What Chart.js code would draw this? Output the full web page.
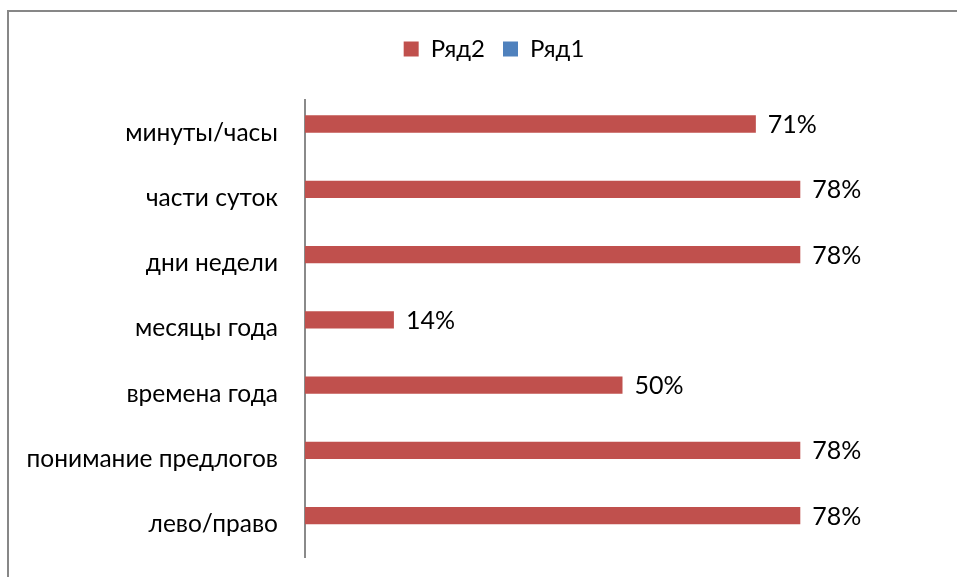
<!DOCTYPE html>
<html>
<head>
<meta charset="utf-8">
<script src="https://cdn.jsdelivr.net/npm/chart.js@4.4.1/dist/chart.umd.min.js"></script>
<style>
  html, body { margin: 0; padding: 0; background: #fff; }
  #wrap { width: 957px; height: 577px; position: relative; }
</style>
</head>
<body>
<div id="wrap"><canvas id="myChart"></canvas></div>
<script>
(function () {
    "use strict";

    // categories and values (share of children, 0..1)
    const categories = ['минуты/часы', 'части суток', 'дни недели', 'месяцы года', 'времена года', 'понимание предлогов', 'лево/право'];
    const row2Values = [0.71, 0.78, 0.78, 0.14, 0.50, 0.78, 0.78];
    const row1Values = [null, null, null, null, null, null, null];
    const seriesNames = ['Ряд2', 'Ряд1'];

    const FONT = "Lato, 'Noto Sans', sans-serif";

    // outer frame of the chart (only left/top edges fall inside the picture)
    const framePlugin = {
        id: 'frame',
        beforeDraw(chart) {
            const c = chart.ctx;
            c.save();
            c.strokeStyle = '#878787';
            c.lineWidth = 2;
            c.strokeRect(8, 11, 1200, 1200);
            c.restore();
        },
        afterLayout(chart) {
            // legend is centred on the whole frame, not the canvas
            chart.legend.left += 14;
            chart.legend.right += 14;
            chart.legend.top += 3;
            chart.legend.bottom += 3;
        }
    };

    // percentage labels right of each bar
    const valueLabels = {
        id: 'valueLabels',
        afterDatasetsDraw(chart) {
            const c = chart.ctx;
            const meta = chart.getDatasetMeta(0);
            c.save();
            c.font = '25px ' + FONT;
            c.fillStyle = '#000';
            c.textAlign = 'left';
            c.textBaseline = 'middle';
            meta.data.forEach(function (bar, i) {
                const v = row2Values[i];
                if (v == null) return;
                c.fillText(Math.round(v * 100) + '%', bar.x + 12, bar.y + 1);
            });
            c.restore();
        }
    };

    const ctx = document.getElementById('myChart').getContext('2d');
    new Chart(ctx, {
        type: 'bar',
        data: {
            labels: categories,
            datasets: [
                {
                    label: seriesNames[0],
                    backgroundColor: '#C0504D',
                    data: row2Values
                },
                {
                    label: seriesNames[1],
                    backgroundColor: '#4F81BD',
                    data: row1Values
                }
            ]
        },
        options: {
            indexAxis: 'y',
            responsive: true,
            maintainAspectRatio: false,
            animation: false,
            layout: {
                padding: { left: 20, right: 17, top: 16, bottom: 20 }
            },
            datasets: {
                bar: { categoryPercentage: 0.53, barPercentage: 1.0 }
            },
            scales: {
                x: {
                    position: 'top',
                    min: 0,
                    max: 1,
                    ticks: { display: false },
                    grid: { display: false },
                    border: { display: false },
                    afterFit: function (scale) { scale.height = 32; }
                },
                y: {
                    grid: { display: false, drawTicks: false },
                    border: { display: true, color: '#8a8a8a', width: 2 },
                    ticks: {
                        padding: 27,
                        color: '#000',
                        font: { family: FONT, size: 24.5 }
                    },
                    afterFit: function (scale) {
                        scale.width = 285;
                        scale.paddingTop = 0;
                        scale.paddingBottom = 0;
                    }
                }
            },
            plugins: {
                legend: {
                    position: 'top',
                    labels: {
                        boxWidth: 15,
                        boxHeight: 15,
                        padding: 18,
                        color: '#000',
                        font: { family: FONT, size: 24 }
                    }
                },
                tooltip: { enabled: false }
            }
        },
        plugins: [framePlugin, valueLabels]
    });
})();
</script>
</body>
</html>
